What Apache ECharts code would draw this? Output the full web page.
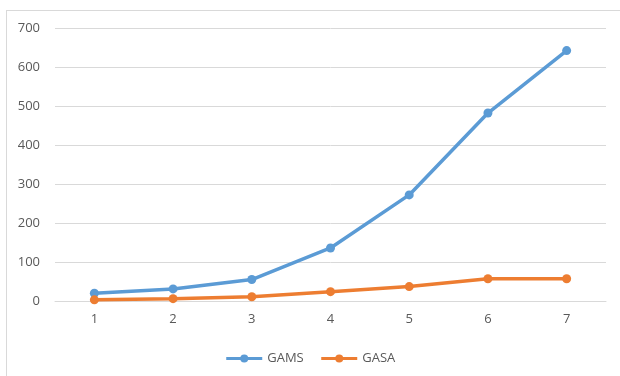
<!DOCTYPE html>
<html>
	<head>
		<meta charset="UTF-8">
		<title>GAMS vs GASA</title>
		<script type="text/javascript" src="https://cdn.jsdelivr.net/npm/echarts@6/dist/echarts.min.js"></script>
		<style>
			body{margin:0;background:#fff;}
			#frame{position:absolute;left:6px;top:10px;width:640px;height:400px;border:1px solid #d9d9d9;}
		</style>
	</head>
	<body>
		<div id="frame"></div>
		<div id="main" style="position:absolute;left:0;top:0;width:620px;height:376px;"></div>
		<script type="text/javascript">
			var categories=['1','2','3','4','5','6','7'];
			var gams=[20,31,55,136,272,482,642];
			var gasa=[3,6,11,24,37,57,57];

			var myChart=echarts.init(document.getElementById('main'));

			var option={
				textStyle:{fontFamily:'Open Sans'},
				grid:{left:55,right:14,top:28,bottom:75},
				legend:{
					top:347,
					left:'center',
					itemWidth:36,
					itemHeight:10,
					itemGap:16,
					lineStyle:{width:3},
					textStyle:{color:'#595959',fontSize:13},
					data:['GAMS','GASA']
				},
				xAxis:{
					type:'category',
					data:categories,
					axisLine:{lineStyle:{color:'#d9d9d9'}},
					axisTick:{show:false},
					axisLabel:{color:'#595959',fontSize:13,margin:12}
				},
				yAxis:{
					type:'value',
					min:0,
					max:700,
					interval:100,
					axisLine:{show:false},
					axisTick:{show:false},
					axisLabel:{color:'#595959',fontSize:13,margin:15},
					splitLine:{lineStyle:{color:'#d9d9d9'}}
				},
				series:[
					{
						name:'GAMS',
						type:'line',
						data:gams,
						symbol:'circle',
						symbolSize:9,
						lineStyle:{width:3.5,color:'#5b9bd5'},
						itemStyle:{color:'#5b9bd5'}
					},
					{
						name:'GASA',
						type:'line',
						data:gasa,
						symbol:'circle',
						symbolSize:9,
						lineStyle:{width:3.5,color:'#ed7d31'},
						itemStyle:{color:'#ed7d31'}
					}
				]
			};

			myChart.setOption(option);
		</script>
	</body>
</html>
